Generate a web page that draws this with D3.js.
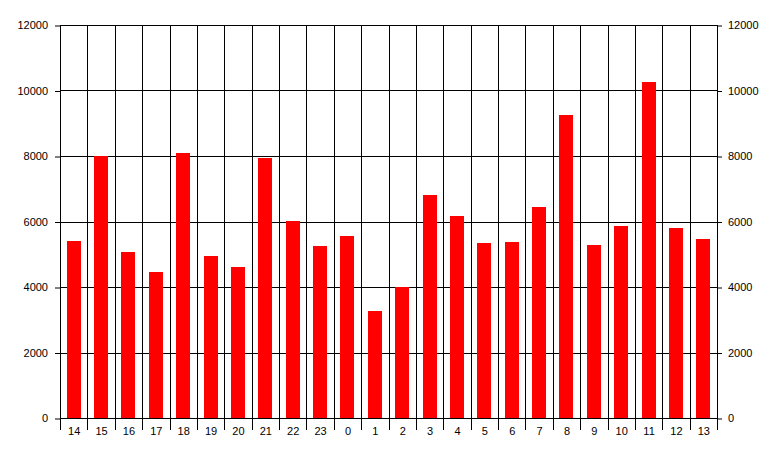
<!DOCTYPE html>
<html>
<head>
<meta charset="utf-8">
<script src="https://cdn.jsdelivr.net/npm/d3@7"></script>
<style>
  body { margin: 0; background: #fff; }
  text { font-family: Arial, "Liberation Sans", sans-serif; font-size: 11px; fill: #000; }
</style>
</head>
<body>
<div id="chart"></div>
<script>
// hours of the day, starting at 14
var hours = ["14", "15", "16", "17", "18", "19", "20", "21", "22", "23", "0", "1",
             "2", "3", "4", "5", "6", "7", "8", "9", "10", "11", "12", "13"];
var counts = [5405, 8005, 5070, 4460, 8090, 4950, 4610, 7940, 6015, 5255, 5560, 3270,
              3995, 6810, 6170, 5345, 5375, 6445, 9250, 5285, 5865, 10260, 5800, 5465];
var yTicks = [0, 2000, 4000, 6000, 8000, 10000, 12000];

var W = 777, H = 457;
var margin = { top: 25, right: 60, bottom: 39, left: 60 },
    width = W - margin.left - margin.right,
    height = H - margin.top - margin.bottom;

var svg = d3.select("#chart")
    .append("svg")
    .attr("width", W)
    .attr("height", H)
    .append("g")
    .attr("transform", "translate(" + margin.left + "," + margin.top + ")");

var x = d3.scaleBand()
    .domain(hours)
    .range([0, width])
    .padding(0);

var y = d3.scaleLinear()
    .domain([0, 12000])
    .range([height, 0]);

function px(v) { return Math.round(v) + 0.5; } // crisp 1px lines

// horizontal grid lines
svg.append("g")
    .selectAll("line")
    .data(yTicks)
    .enter()
    .append("line")
    .attr("x1", 0)
    .attr("x2", width)
    .attr("y1", function (d) { return px(y(d)); })
    .attr("y2", function (d) { return px(y(d)); })
    .attr("stroke", "#000");

// vertical grid lines at the category edges (they also run down as tick marks)
var edges = hours.map(function (h) { return x(h); }).concat([width]);
svg.append("g")
    .selectAll("line")
    .data(edges)
    .enter()
    .append("line")
    .attr("x1", function (d) { return px(d); })
    .attr("x2", function (d) { return px(d); })
    .attr("y1", 0)
    .attr("y2", height + 12)
    .attr("stroke", "#000");

// bars
var barW = 14;
svg.append("g")
    .selectAll("rect")
    .data(counts)
    .enter()
    .append("rect")
    .attr("x", function (d, i) { return Math.round(x(hours[i]) + (x.bandwidth() - barW) / 2); })
    .attr("width", barW)
    .attr("y", function (d) { return Math.round(y(d)); })
    .attr("height", function (d) { return Math.round(height) - Math.round(y(d)); })
    .attr("fill", "#ff0000");

// left axis
var left = svg.append("g")
    .call(d3.axisLeft(y).tickValues(yTicks).tickSize(5).tickPadding(7).tickFormat(d3.format("d")));
left.select(".domain").remove();
left.selectAll("line").attr("transform", "translate(0,0.5)");
left.selectAll("text").style("font-size", "11px").style("font-family", "Arial, 'Liberation Sans', sans-serif");

// right axis
var right = svg.append("g")
    .attr("transform", "translate(" + width + ",0)")
    .call(d3.axisRight(y).tickValues(yTicks).tickSize(5).tickPadding(6).tickFormat(d3.format("d")));
right.select(".domain").remove();
right.selectAll("line").attr("transform", "translate(0,0.5)");
right.selectAll("text").style("font-size", "11px").style("font-family", "Arial, 'Liberation Sans', sans-serif");

// bottom labels
svg.append("g")
    .selectAll("text")
    .data(hours)
    .enter()
    .append("text")
    .attr("x", function (d) { return x(d) + x.bandwidth() / 2 + 0.5; })
    .attr("y", height + 17)
    .attr("text-anchor", "middle")
    .text(function (d) { return d; });
</script>
</body>
</html>
